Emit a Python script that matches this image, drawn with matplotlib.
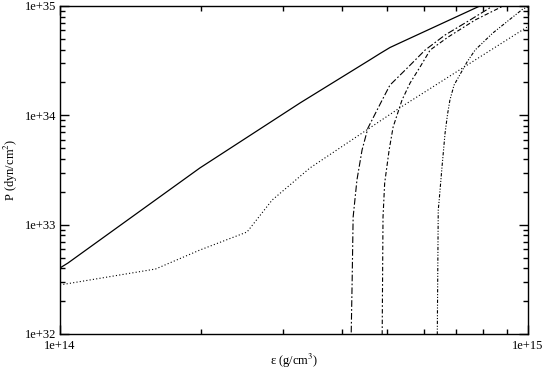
import numpy as np
import matplotlib
matplotlib.use("Agg")
import matplotlib.pyplot as plt
from matplotlib.ticker import LogLocator, FuncFormatter, NullFormatter

plt.rcParams['font.family'] = ['Liberation Serif', 'DejaVu Serif']
plt.rcParams['mathtext.fontset'] = 'stix'

# Solid curve
eps_solid = [1.00e14, 1.04e14, 1.99e14, 3.26e14, 4.59e14, 4.83e14, 5.07e14, 5.32e14, 7.89e14, 1.0e15]
p_solid = [4.02e32, 4.46e32, 3.30e33, 1.30e34, 3.21e34, 3.68e34, 4.17e34, 4.59e34, 1.0e35, 1.64e35]

# Dotted curve
eps_dot = [1.00e14, 1.60e14, 1.99e14, 2.51e14, 2.84e14, 3.42e14, 5.32e14, 1.0e15]
p_dot = [2.81e32, 3.93e32, 5.86e32, 8.57e32, 1.68e33, 3.30e33, 1.17e34, 6.5e34]

# Dash-dot curve A
eps_a = [4.19e14, 4.19e14, 4.21e14, 4.23e14, 4.31e14, 4.42e14, 4.55e14, 4.88e14,
         5.07e14, 5.55e14, 6.03e14, 6.65e14, 7.52e14, 8.41e14]
p_a = [7.9e31, 1.0e32, 3.12e32, 1.17e33, 2.56e33, 4.82e33, 7.66e33, 1.38e34,
       1.89e34, 2.77e34, 3.96e34, 5.43e34, 7.45e34, 1.0e35]

# Dash-dot curve B
eps_b = [4.88e14, 4.88e14, 4.90e14, 4.94e14, 5.05e14, 5.15e14, 5.38e14, 5.60e14,
         5.88e14, 6.18e14, 6.75e14, 7.71e14, 8.85e14]
p_b = [7.9e31, 1.0e32, 1.17e33, 2.40e33, 4.82e33, 7.82e33, 1.38e34, 1.98e34,
       2.77e34, 3.96e34, 5.20e34, 7.45e34, 1.0e35]

# Dash-dot-dot curve C
eps_c = [6.40e14, 6.40e14, 6.43e14, 6.46e14, 6.55e14, 6.65e14, 6.73e14, 6.81e14, 6.95e14,
         7.41e14, 7.71e14, 8.41e14, 9.75e14, 1.0e15]
p_c = [7.9e31, 1.0e32, 1.36e33, 1.68e33, 3.37e33, 6.89e33, 1.02e34, 1.38e34, 1.89e34,
       3.08e34, 3.96e34, 5.66e34, 9.39e34, 9.8e34]

x_label = r"ε (g/cm$^3$)"
y_label = r"P (dyn/cm$^2$)"

fig = plt.figure(figsize=(5.45, 3.71), dpi=100)
ax = fig.add_axes([60/545, 1-334/371, 468/545, 328/371])

ax.plot(eps_solid, p_solid, color='black', lw=0.9, ls='-')
ax.plot(eps_dot, p_dot, color='black', lw=0.8, ls=(0, (1, 2)))
ax.plot(eps_a, p_a, color='black', lw=0.8, ls=(0, (6, 2, 1.5, 2)))
ax.plot(eps_b, p_b, color='black', lw=0.8, ls=(0, (4, 2, 1.5, 2)))
ax.plot(eps_c, p_c, color='black', lw=0.8, ls=(0, (3, 1.5, 1, 1.5, 1, 1.5)))

ax.set_xscale('log')
ax.set_yscale('log')
ax.set_xlim(1e14, 1e15)
ax.set_ylim(1e32, 1e35)

fmt = FuncFormatter(lambda v, pos: f"1e+{int(round(np.log10(v)))}")
ax.xaxis.set_major_locator(LogLocator(base=10, numticks=10))
ax.yaxis.set_major_locator(LogLocator(base=10, numticks=10))
ax.xaxis.set_minor_locator(LogLocator(base=10, subs=np.arange(2, 10), numticks=20))
ax.yaxis.set_minor_locator(LogLocator(base=10, subs=np.arange(2, 10), numticks=20))
ax.xaxis.set_major_formatter(fmt)
ax.yaxis.set_major_formatter(fmt)
ax.xaxis.set_minor_formatter(NullFormatter())
ax.yaxis.set_minor_formatter(NullFormatter())

ax.tick_params(which='both', direction='in', top=True, right=True, labelsize=9, colors='black')
ax.tick_params(which='major', length=6.5, width=1.0)
ax.tick_params(which='minor', length=3.4, width=1.0)
ax.tick_params(axis='x', which='major', pad=4)
ax.tick_params(axis='y', which='major', pad=3)
for s in ax.spines.values():
    s.set_linewidth(1.0)

ax.set_xlabel(x_label, fontsize=9, labelpad=0)
ax.set_ylabel(y_label, fontsize=9, labelpad=3)

fig.savefig("out.png", dpi=100)
